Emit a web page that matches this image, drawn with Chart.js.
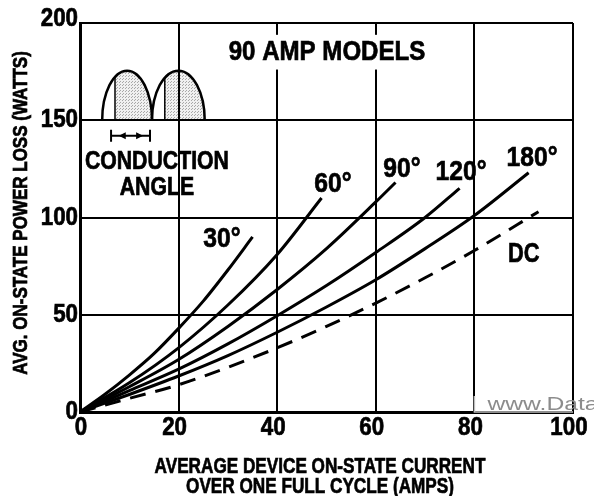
<!DOCTYPE html>
<html lang="en">

<head>
  <meta charset="UTF-8">
  <title>90 AMP MODELS - power loss</title>
  <script src="https://cdn.jsdelivr.net/npm/chart.js"></script>
  <style>
    html, body { margin: 0; padding: 0; background: #fff; }
    #wrap { width: 594px; height: 496px; }
  </style>
</head>

<body>
  <div id="wrap"><canvas id="chartLoss"></canvas></div>

  <script>
    // ticks
    const xTicks = [0, 20, 40, 60, 80, 100]
    const yTicks = [0, 50, 100, 150, 200]

    // current (A) / power loss (W), one pair per conduction angle
    const i30 = [0, 5, 10, 15, 20, 25, 30, 35]
    const p30 = [0, 9, 19, 30, 43, 57, 73, 90]
    const i60 = [0, 10, 20, 30, 40, 49]
    const p60 = [0, 15, 33, 55, 81, 110]
    const i90 = [0, 10, 20, 30, 40, 50, 60, 64]
    const p90 = [0, 13, 27, 44, 63, 84, 108, 118]
    const i120 = [0, 10, 20, 30, 40, 50, 60, 70, 77]
    const p120 = [0, 11, 22, 35, 49.5, 65, 82, 100, 115]
    const i180 = [0, 10, 20, 30, 40, 50, 60, 70, 80, 91]
    const p180 = [0, 9, 18.5, 29, 41, 54, 68, 84, 101, 123]
    const iDC = [0, 10, 20, 30, 40, 50, 60, 70, 80, 93]
    const pDC = [0, 7, 14, 23, 33, 44, 56, 69, 83, 103]

    const seriesNames = ['30°', '60°', '90°', '120°', '180°', 'DC']

    const FONT = '"Liberation Sans", Arial, sans-serif'

    function pairs(xs, ys) {
      return xs.map((v, k) => ({ x: v, y: ys[k] }))
    }

    function curve(label, xs, ys, dashed) {
      return {
        label: label,
        data: pairs(xs, ys),
        showLine: true,
        borderColor: '#000',
        borderWidth: 3,
        borderDash: dashed ? [16, 10] : [],
        pointRadius: 0,
        cubicInterpolationMode: 'monotone',
        fill: false
      }
    }

    // condensed heavy text, like the original lettering
    function txt(ctx, s, px, py, size, sx, align, rot, blank) {
      ctx.save()
      ctx.font = 'bold ' + size + 'px ' + FONT
      ctx.textAlign = align || 'center'
      ctx.textBaseline = 'middle'
      ctx.translate(px, py)
      if (rot) ctx.rotate(rot)
      ctx.scale(sx, 1)
      if (blank) { // clear the grid behind the text
        const w = ctx.measureText(s).width + 12
        ctx.fillStyle = '#fff'
        ctx.fillRect(-w / 2, -size * 0.62, w, size * 1.24)
      }
      ctx.fillStyle = '#000'
      ctx.strokeStyle = '#000'
      ctx.lineWidth = 0.7
      ctx.fillText(s, 0, 0)
      ctx.strokeText(s, 0, 0)
      ctx.restore()
    }

    // stipple for the shaded part of the waveform
    const dots = document.createElement('canvas')
    dots.width = 3; dots.height = 3
    const dctx = dots.getContext('2d')
    dctx.fillStyle = 'rgba(0,0,0,0.06)'
    dctx.fillRect(0, 0, 3, 3)
    dctx.fillStyle = 'rgba(0,0,0,0.3)'
    dctx.fillRect(0, 0, 1, 1)
    dctx.fillRect(2, 1, 1, 1)

    const notes = {
      id: 'notes',
      beforeDatasetsDraw(chart) {
        const { ctx, scales: { x, y } } = chart
        // two half-wave humps sitting on the 150 W line
        const humps = [[4.5, 14.6, 7.1], [14.6, 25.3, 17.2]]
        const base = y.getPixelForValue(150), top = y.getPixelForValue(175.5)
        ctx.save()
        humps.forEach(h => {
          const x0 = x.getPixelForValue(h[0]), x1 = x.getPixelForValue(h[1])
          const xs = x.getPixelForValue(h[2])
          const cx = (x0 + x1) / 2, rx = (x1 - x0) / 2, ry = base - top
          ctx.beginPath()
          ctx.ellipse(cx, base, rx, ry, 0, Math.PI, 2 * Math.PI)
          ctx.closePath()
          ctx.save()
          ctx.clip()
          ctx.fillStyle = ctx.createPattern(dots, 'repeat')
          ctx.fillRect(xs, top, x1 - xs, ry)
          ctx.restore()
          ctx.lineWidth = 2.5
          ctx.strokeStyle = '#000'
          ctx.beginPath()
          ctx.ellipse(cx, base, rx, ry, 0, Math.PI, 2 * Math.PI)
          ctx.stroke()
          const t = (xs - cx) / rx
          ctx.lineWidth = 1.5
          ctx.beginPath()
          ctx.moveTo(xs, base)
          ctx.lineTo(xs, base - ry * Math.sqrt(1 - t * t))
          ctx.stroke()
        })

        // conduction angle marker
        const ax0 = x.getPixelForValue(6.3), ax1 = x.getPixelForValue(14.2)
        const ay = y.getPixelForValue(142)
        ctx.lineWidth = 2
        ctx.beginPath()
        ctx.moveTo(ax0, ay - 6); ctx.lineTo(ax0, ay + 6)
        ctx.moveTo(ax1, ay - 6); ctx.lineTo(ax1, ay + 6)
        ctx.moveTo(ax0, ay); ctx.lineTo(ax1, ay)
        ctx.stroke()
        ctx.fillStyle = '#000'
        const hl = ax0 + (ax1 - ax0) * 0.3, hr = ax0 + (ax1 - ax0) * 0.72
        ctx.beginPath()
        ctx.moveTo(hl - 4, ay); ctx.lineTo(hl + 3, ay - 3.5); ctx.lineTo(hl + 3, ay + 3.5)
        ctx.closePath(); ctx.fill()
        ctx.beginPath()
        ctx.moveTo(hr + 4, ay); ctx.lineTo(hr - 3, ay - 3.5); ctx.lineTo(hr - 3, ay + 3.5)
        ctx.closePath(); ctx.fill()
        ctx.restore()
      },
      afterDatasetsDraw(chart) {
        const { ctx, chartArea, scales: { x, y } } = chart

        // tick labels
        xTicks.forEach(v => txt(ctx, String(v), x.getPixelForValue(v) - (v ? 4 : -1), chartArea.bottom + 16, 26, 0.86))
        yTicks.forEach(v => txt(ctx, String(v), chartArea.left - 2, y.getPixelForValue(v) - (v === 200 ? 4 : 0), 26, 0.86, 'right'))

        // axis titles
        txt(ctx, 'AVERAGE DEVICE ON-STATE CURRENT', 320, 467, 22, 0.78)
        txt(ctx, 'OVER ONE FULL CYCLE (AMPS)', 320, 487, 22, 0.78)
        txt(ctx, 'AVG. ON-STATE POWER LOSS (WATTS)', 21, 213, 20, 0.85, 'center', -Math.PI / 2)

        // notes inside the plot
        txt(ctx, '90 AMP MODELS', x.getPixelForValue(50.1), y.getPixelForValue(185), 28, 0.86, 'center', 0, true)
        txt(ctx, 'CONDUCTION', x.getPixelForValue(15.6), y.getPixelForValue(128.4), 25, 0.85)
        txt(ctx, 'ANGLE', x.getPixelForValue(15.6), y.getPixelForValue(115), 25, 0.85)

        // curve labels
        const lx = [28.8, 51.3, 65.3, 77.3, 91.7, 90]
        const ly = [89, 117, 125, 123, 130.4, 81]
        seriesNames.forEach((s, k) => {
          txt(ctx, s, x.getPixelForValue(lx[k]), y.getPixelForValue(ly[k]), 28, s === 'DC' ? 0.78 : 0.88)
        })

        // scanned watermark in the corner
        ctx.save()
        const wx = x.getPixelForValue(80), wb = y.getPixelForValue(0)
        ctx.strokeStyle = '#bdbdbd'
        ctx.lineWidth = 1.5
        ctx.beginPath()
        ctx.moveTo(wx, wb - 16); ctx.lineTo(wx, wb); ctx.lineTo(x.getPixelForValue(100), wb)
        ctx.stroke()
        ctx.fillStyle = '#8c8c8c'
        ctx.textAlign = 'left'
        ctx.textBaseline = 'alphabetic'
        ctx.font = '19px ' + FONT
        ctx.translate(wx + 13, wb - 2)
        ctx.scale(1.3, 1)
        ctx.fillText('www.Data', 0, 0)
        ctx.restore()
      }
    }

    new Chart(document.getElementById('chartLoss'), {
      type: 'scatter',
      data: {
        datasets: [
          curve(seriesNames[0], i30, p30),
          curve(seriesNames[1], i60, p60),
          curve(seriesNames[2], i90, p90),
          curve(seriesNames[3], i120, p120),
          curve(seriesNames[4], i180, p180),
          curve(seriesNames[5], iDC, pDC, true)
        ]
      },
      options: {
        responsive: true,
        maintainAspectRatio: false,
        animation: false,
        layout: { padding: { top: 23, right: 21, left: 0, bottom: 0 } },
        plugins: {
          legend: { display: false },
          tooltip: { enabled: false }
        },
        scales: {
          x: {
            type: 'linear',
            min: 0,
            max: 100,
            afterBuildTicks: s => { s.ticks = xTicks.map(v => ({ value: v })) },
            afterFit: s => { s.height = 84 },
            ticks: { display: false },
            grid: { color: '#000', lineWidth: 2, drawTicks: false },
            border: { color: '#000', width: 3 }
          },
          y: {
            min: 0,
            max: 200,
            afterBuildTicks: s => { s.ticks = yTicks.map(v => ({ value: v })) },
            afterFit: s => { s.width = 80 },
            ticks: { display: false },
            grid: { color: '#000', lineWidth: 2, drawTicks: false },
            border: { color: '#000', width: 3 }
          }
        }
      },
      plugins: [notes]
    })
  </script>
</body>

</html>
